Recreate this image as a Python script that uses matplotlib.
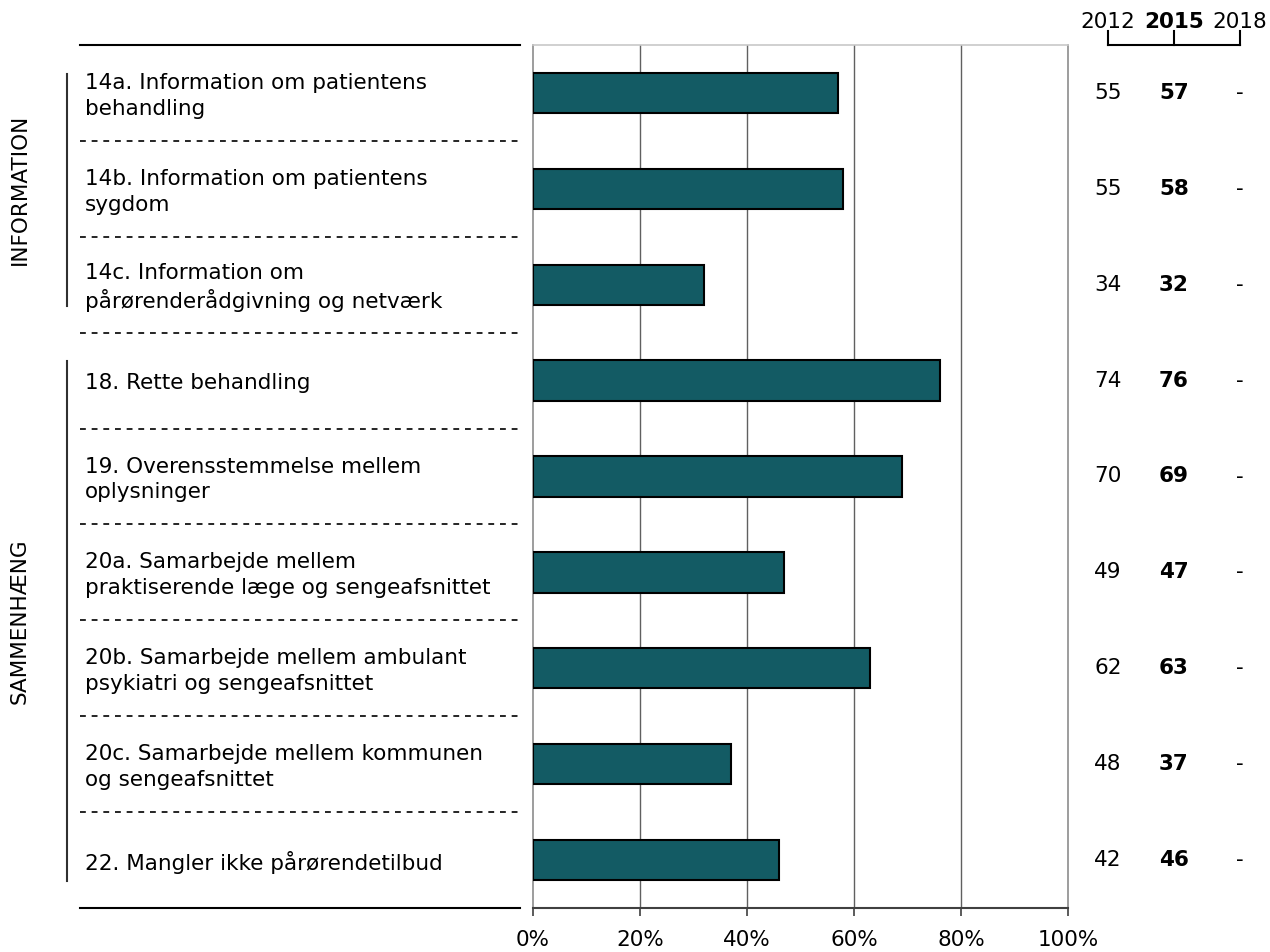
import matplotlib.pyplot as plt
import matplotlib.transforms as mtransforms
import numpy as np

# Spørgsmål (rækker oppefra og ned)
labels = [
    "14a. Information om patientens\nbehandling",
    "14b. Information om patientens\nsygdom",
    "14c. Information om\npårørenderådgivning og netværk",
    "18. Rette behandling",
    "19. Overensstemmelse mellem\noplysninger",
    "20a. Samarbejde mellem\npraktiserende læge og sengeafsnittet",
    "20b. Samarbejde mellem ambulant\npsykiatri og sengeafsnittet",
    "20c. Samarbejde mellem kommunen\nog sengeafsnittet",
    "22. Mangler ikke pårørendetilbud",
]
values_2012 = [55, 55, 34, 74, 70, 49, 62, 48, 42]
values_2015 = [57, 58, 32, 76, 69, 47, 63, 37, 46]
values_2018 = ["-", "-", "-", "-", "-", "-", "-", "-", "-"]
year_labels = ["2012", "2015", "2018"]
x_ticks = [0, 20, 40, 60, 80, 100]
tick_labels = ["0%", "20%", "40%", "60%", "80%", "100%"]

# grupper: (navn, første række, sidste række)
groups = [("INFORMATION", 0, 2), ("SAMMENHÆNG", 3, 8)]

bar_color = '#135B64'
fs = 15.5
W, H = 1270, 952

fig = plt.figure(figsize=(W / 100, H / 100), dpi=100)
ax = fig.add_axes([533 / W, 1 - 908 / H, 535 / W, 863 / H])

y = np.arange(len(labels))
ax.barh(y, values_2015, height=0.42, color=bar_color, edgecolor='black',
        linewidth=1.5, zorder=3)

ax.set_xlim(0, 100)
ax.set_ylim(len(labels) - 0.5, -0.5)
ax.set_xticks(x_ticks)
ax.set_xticklabels(tick_labels, fontsize=fs)
ax.set_yticks([])
ax.tick_params(axis='x', direction='out', length=6, width=1.2,
               color='#404040', pad=10)
for xv in x_ticks[1:-1]:
    ax.axvline(xv, color='#606060', linewidth=1.0, zorder=1)

for side in ['left', 'right', 'top']:
    ax.spines[side].set_color('#8c8c8c')
    ax.spines[side].set_linewidth(1.2)
ax.spines['top'].set_color('#c8c8c8')
ax.spines['bottom'].set_color('#404040')
ax.spines['bottom'].set_linewidth(1.5)

# blandet transform: x i figurkoordinater, y i data
trans = mtransforms.blended_transform_factory(fig.transFigure, ax.transData)

def fx(px):
    return px / W

# række-etiketter og skillelinjer
for i, lab in enumerate(labels):
    ax.text(fx(85), i + 0.03, lab, transform=trans, ha='left', va='center',
            fontsize=fs, linespacing=1.35, clip_on=False)
for i in range(len(labels) - 1):
    ax.plot([fx(80), fx(520)], [i + 0.5, i + 0.5], transform=trans,
            color='black', linewidth=1.2, linestyle=(0, (3.5, 3.5)),
            clip_on=False)
for yb in [-0.5, len(labels) - 0.5]:
    ax.plot([fx(80), fx(520)], [yb, yb], transform=trans,
            color='black', linewidth=1.5, clip_on=False)

# gruppe-linjer og lodrette gruppenavne
for name, first, last in groups:
    y0, y1 = first - 0.2, last + 0.22
    ax.plot([fx(67), fx(67)], [y0, y1], transform=trans, color='#303030',
            linewidth=1.5, clip_on=False)
    ax.text(fx(20), (y0 + y1) / 2, name, transform=trans, rotation=90,
            ha='center', va='center', fontsize=fs, clip_on=False)

# talkolonner til højre
col_x = [1108, 1174, 1240]
for i in range(len(labels)):
    ax.text(fx(col_x[0]), i, str(values_2012[i]), transform=trans,
            ha='center', va='center', fontsize=fs, clip_on=False)
    ax.text(fx(col_x[1]), i, str(values_2015[i]), transform=trans,
            ha='center', va='center', fontsize=fs, fontweight='bold',
            clip_on=False)
    ax.text(fx(col_x[2]), i, values_2018[i], transform=trans,
            ha='center', va='center', fontsize=fs, clip_on=False)

# årstal-overskrift med klamme
for cx, yr in zip(col_x, year_labels):
    fig.text(fx(cx), 1 - 22 / H, yr, ha='center', va='center', fontsize=fs,
             fontweight='bold' if yr == '2015' else 'normal')
    fig.add_artist(plt.Line2D([fx(cx), fx(cx)], [1 - 31 / H, 1 - 45 / H],
                              color='black', linewidth=1.5))
fig.add_artist(plt.Line2D([fx(col_x[0]), fx(col_x[-1])],
                          [1 - 45 / H, 1 - 45 / H],
                          color='black', linewidth=1.5))

plt.savefig("out.png", dpi=100)
